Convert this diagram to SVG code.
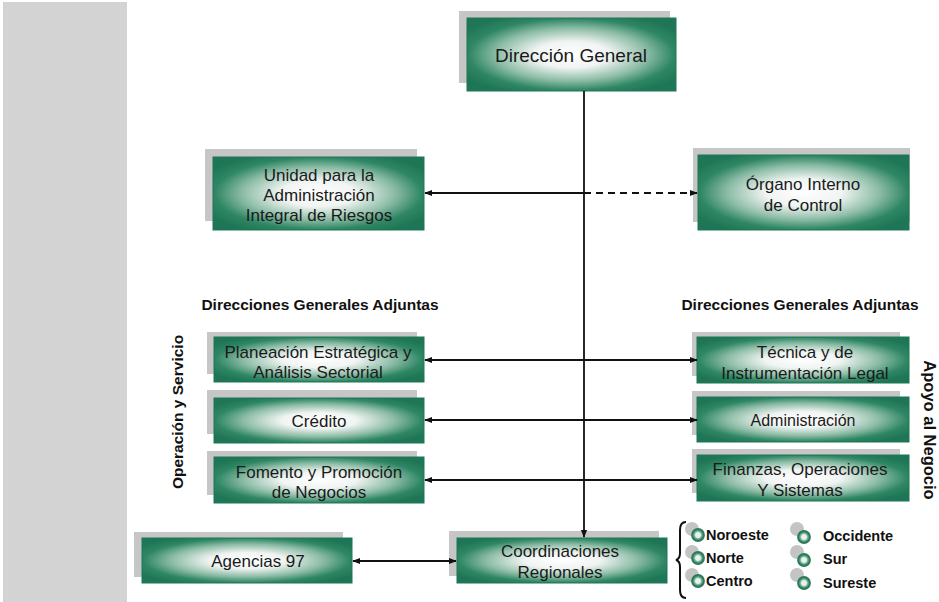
<svg xmlns="http://www.w3.org/2000/svg" width="939" height="602" viewBox="0 0 939 602">
<defs>
<radialGradient id="g" cx="0.5" cy="0.5" r="0.6">
<stop offset="0" stop-color="#ffffff"/>
<stop offset="0.3" stop-color="#f0f4f2"/>
<stop offset="0.6" stop-color="#8cbca6"/>
<stop offset="0.82" stop-color="#2e8664"/>
<stop offset="1" stop-color="#1f7656"/>
</radialGradient>
<radialGradient id="ring" cx="0.5" cy="0.5" r="0.5">
<stop offset="0.4" stop-color="#e8f2ec"/>
<stop offset="0.65" stop-color="#6aa98c"/>
<stop offset="1" stop-color="#2d7b5c"/>
</radialGradient>
<marker id="ah" viewBox="0 0 10 10" refX="9" refY="5" markerWidth="8" markerHeight="8" orient="auto-start-reverse" markerUnits="userSpaceOnUse">
<path d="M0,1 L10,5 L0,9 z" fill="#111"/>
</marker>
</defs>
<style>
.sh{fill:#c6c6c6}
.bx{fill:url(#g);stroke:#1f7656;stroke-width:1}
.t{font-family:"Liberation Sans",Arial,sans-serif;font-size:17px;fill:#1a1a1a;text-anchor:middle}
.big{font-size:19px}
.h{font-family:"Liberation Sans",Arial,sans-serif;font-size:15.5px;font-weight:bold;fill:#111;text-anchor:middle}
.r{font-family:"Liberation Sans",Arial,sans-serif;font-size:14.5px;font-weight:bold;fill:#111}
.ln{stroke:#111;stroke-width:1.8;fill:none}
.bs{fill:#c4c4c4}
.bc{fill:url(#ring);stroke:#2d7b5c;stroke-width:1.8}
</style>
<rect x="0" y="0" width="939" height="602" fill="#ffffff"/>
<rect x="3" y="2" width="124" height="600" fill="#d3d3d3"/>

<g id="direccion-general">
<rect class="sh" x="459" y="11" width="211" height="72"/>
<rect class="bx" x="467" y="18" width="209" height="73"/>
<text class="t big" x="571" y="62">Dirección General</text>
</g>

<g id="unidad">
<rect class="sh" x="205" y="149" width="212" height="72"/>
<rect class="bx" x="213" y="157" width="211" height="73"/>
<text class="t" x="319" y="181">Unidad para la</text>
<text class="t" x="319" y="201">Administración</text>
<text class="t" x="319" y="221">Integral de Riesgos</text>
</g>

<g id="organo">
<rect class="sh" x="693" y="148" width="217" height="74"/>
<rect class="bx" x="698" y="155" width="211" height="75"/>
<text class="t" x="803" y="190">Órgano Interno</text>
<text class="t" x="803" y="211">de Control</text>
</g>

<text class="h" x="320" y="310">Direcciones Generales Adjuntas</text>
<text class="h" x="800" y="310">Direcciones Generales Adjuntas</text>
<text class="h" transform="translate(183,412) rotate(-90)">Operación y Servicio</text>
<text class="h" transform="translate(924,430) rotate(90)" style="font-size:16.5px">Apoyo al Negocio</text>

<g id="planeacion">
<rect class="sh" x="207" y="332" width="210" height="42"/>
<rect class="bx" x="214" y="337" width="210" height="45"/>
<text class="t" x="318" y="358">Planeación Estratégica y</text>
<text class="t" x="318" y="378">Análisis Sectorial</text>
</g>

<g id="credito">
<rect class="sh" x="207" y="390" width="210" height="44"/>
<rect class="bx" x="214" y="398" width="210" height="45"/>
<text class="t" x="319" y="427">Crédito</text>
</g>

<g id="fomento">
<rect class="sh" x="207" y="451" width="210" height="44"/>
<rect class="bx" x="214" y="457" width="210" height="46"/>
<text class="t" x="319" y="478">Fomento y Promoción</text>
<text class="t" x="319" y="498">de Negocios</text>
</g>

<g id="tecnica">
<rect class="sh" x="692" y="332" width="208" height="44"/>
<rect class="bx" x="697" y="337" width="212" height="46"/>
<text class="t" x="805" y="358">Técnica y de</text>
<text class="t" x="805" y="379">Instrumentación Legal</text>
</g>

<g id="administracion">
<rect class="sh" x="692" y="391" width="208" height="44"/>
<rect class="bx" x="697" y="397" width="212" height="45"/>
<text class="t" x="803" y="426" style="font-size:16px">Administración</text>
</g>

<g id="finanzas">
<rect class="sh" x="692" y="449" width="208" height="44"/>
<rect class="bx" x="697" y="455" width="212" height="46"/>
<text class="t" x="800" y="475">Finanzas, Operaciones</text>
<text class="t" x="800" y="496">Y Sistemas</text>
</g>

<g id="agencias">
<rect class="sh" x="134" y="532" width="209" height="45"/>
<rect class="bx" x="142" y="538" width="210" height="45"/>
<text class="t" x="258" y="567">Agencias 97</text>
</g>

<g id="coordinaciones">
<rect class="sh" x="449" y="531" width="210" height="45"/>
<rect class="bx" x="457" y="538" width="210" height="45"/>
<text class="t" x="560" y="557">Coordinaciones</text>
<text class="t" x="560" y="578">Regionales</text>
</g>

<g id="regiones">
<path d="M686,522 Q680,522 680,530 L680,553 Q680,559 676,560 Q680,561 680,567 L680,590 Q680,598 686,598" fill="none" stroke="#111" stroke-width="2"/>
<circle class="bs" cx="692" cy="529" r="7"/>
<circle class="bc" cx="698" cy="535" r="6"/>
<text class="r" x="706" y="540">Noroeste</text>
<circle class="bs" cx="692" cy="552" r="7"/>
<circle class="bc" cx="698" cy="558" r="6"/>
<text class="r" x="706" y="563">Norte</text>
<circle class="bs" cx="692" cy="575" r="7"/>
<circle class="bc" cx="698" cy="581" r="6"/>
<text class="r" x="706" y="586">Centro</text>
<circle class="bs" cx="797" cy="529" r="7"/>
<circle class="bc" cx="804" cy="537" r="6"/>
<text class="r" x="823" y="541">Occidente</text>
<circle class="bs" cx="797" cy="552" r="7"/>
<circle class="bc" cx="804" cy="560" r="6"/>
<text class="r" x="823" y="564">Sur</text>
<circle class="bs" cx="797" cy="575" r="7"/>
<circle class="bc" cx="804" cy="583" r="6"/>
<text class="r" x="823" y="588">Sureste</text>
</g>

<g id="connectors">
<line class="ln" x1="584" y1="91" x2="584" y2="537" marker-end="url(#ah)"/>
<line class="ln" x1="584" y1="193" x2="425" y2="193" marker-end="url(#ah)"/>
<line class="ln" x1="584" y1="193" x2="697" y2="193" stroke-dasharray="7,5" marker-end="url(#ah)"/>
<line class="ln" x1="425" y1="360" x2="697" y2="360" marker-start="url(#ah)" marker-end="url(#ah)"/>
<line class="ln" x1="425" y1="420" x2="697" y2="420" marker-start="url(#ah)" marker-end="url(#ah)"/>
<line class="ln" x1="425" y1="480" x2="697" y2="480" marker-start="url(#ah)" marker-end="url(#ah)"/>
<line class="ln" x1="353" y1="561" x2="456" y2="561" marker-start="url(#ah)" marker-end="url(#ah)"/>
</g>
</svg>
